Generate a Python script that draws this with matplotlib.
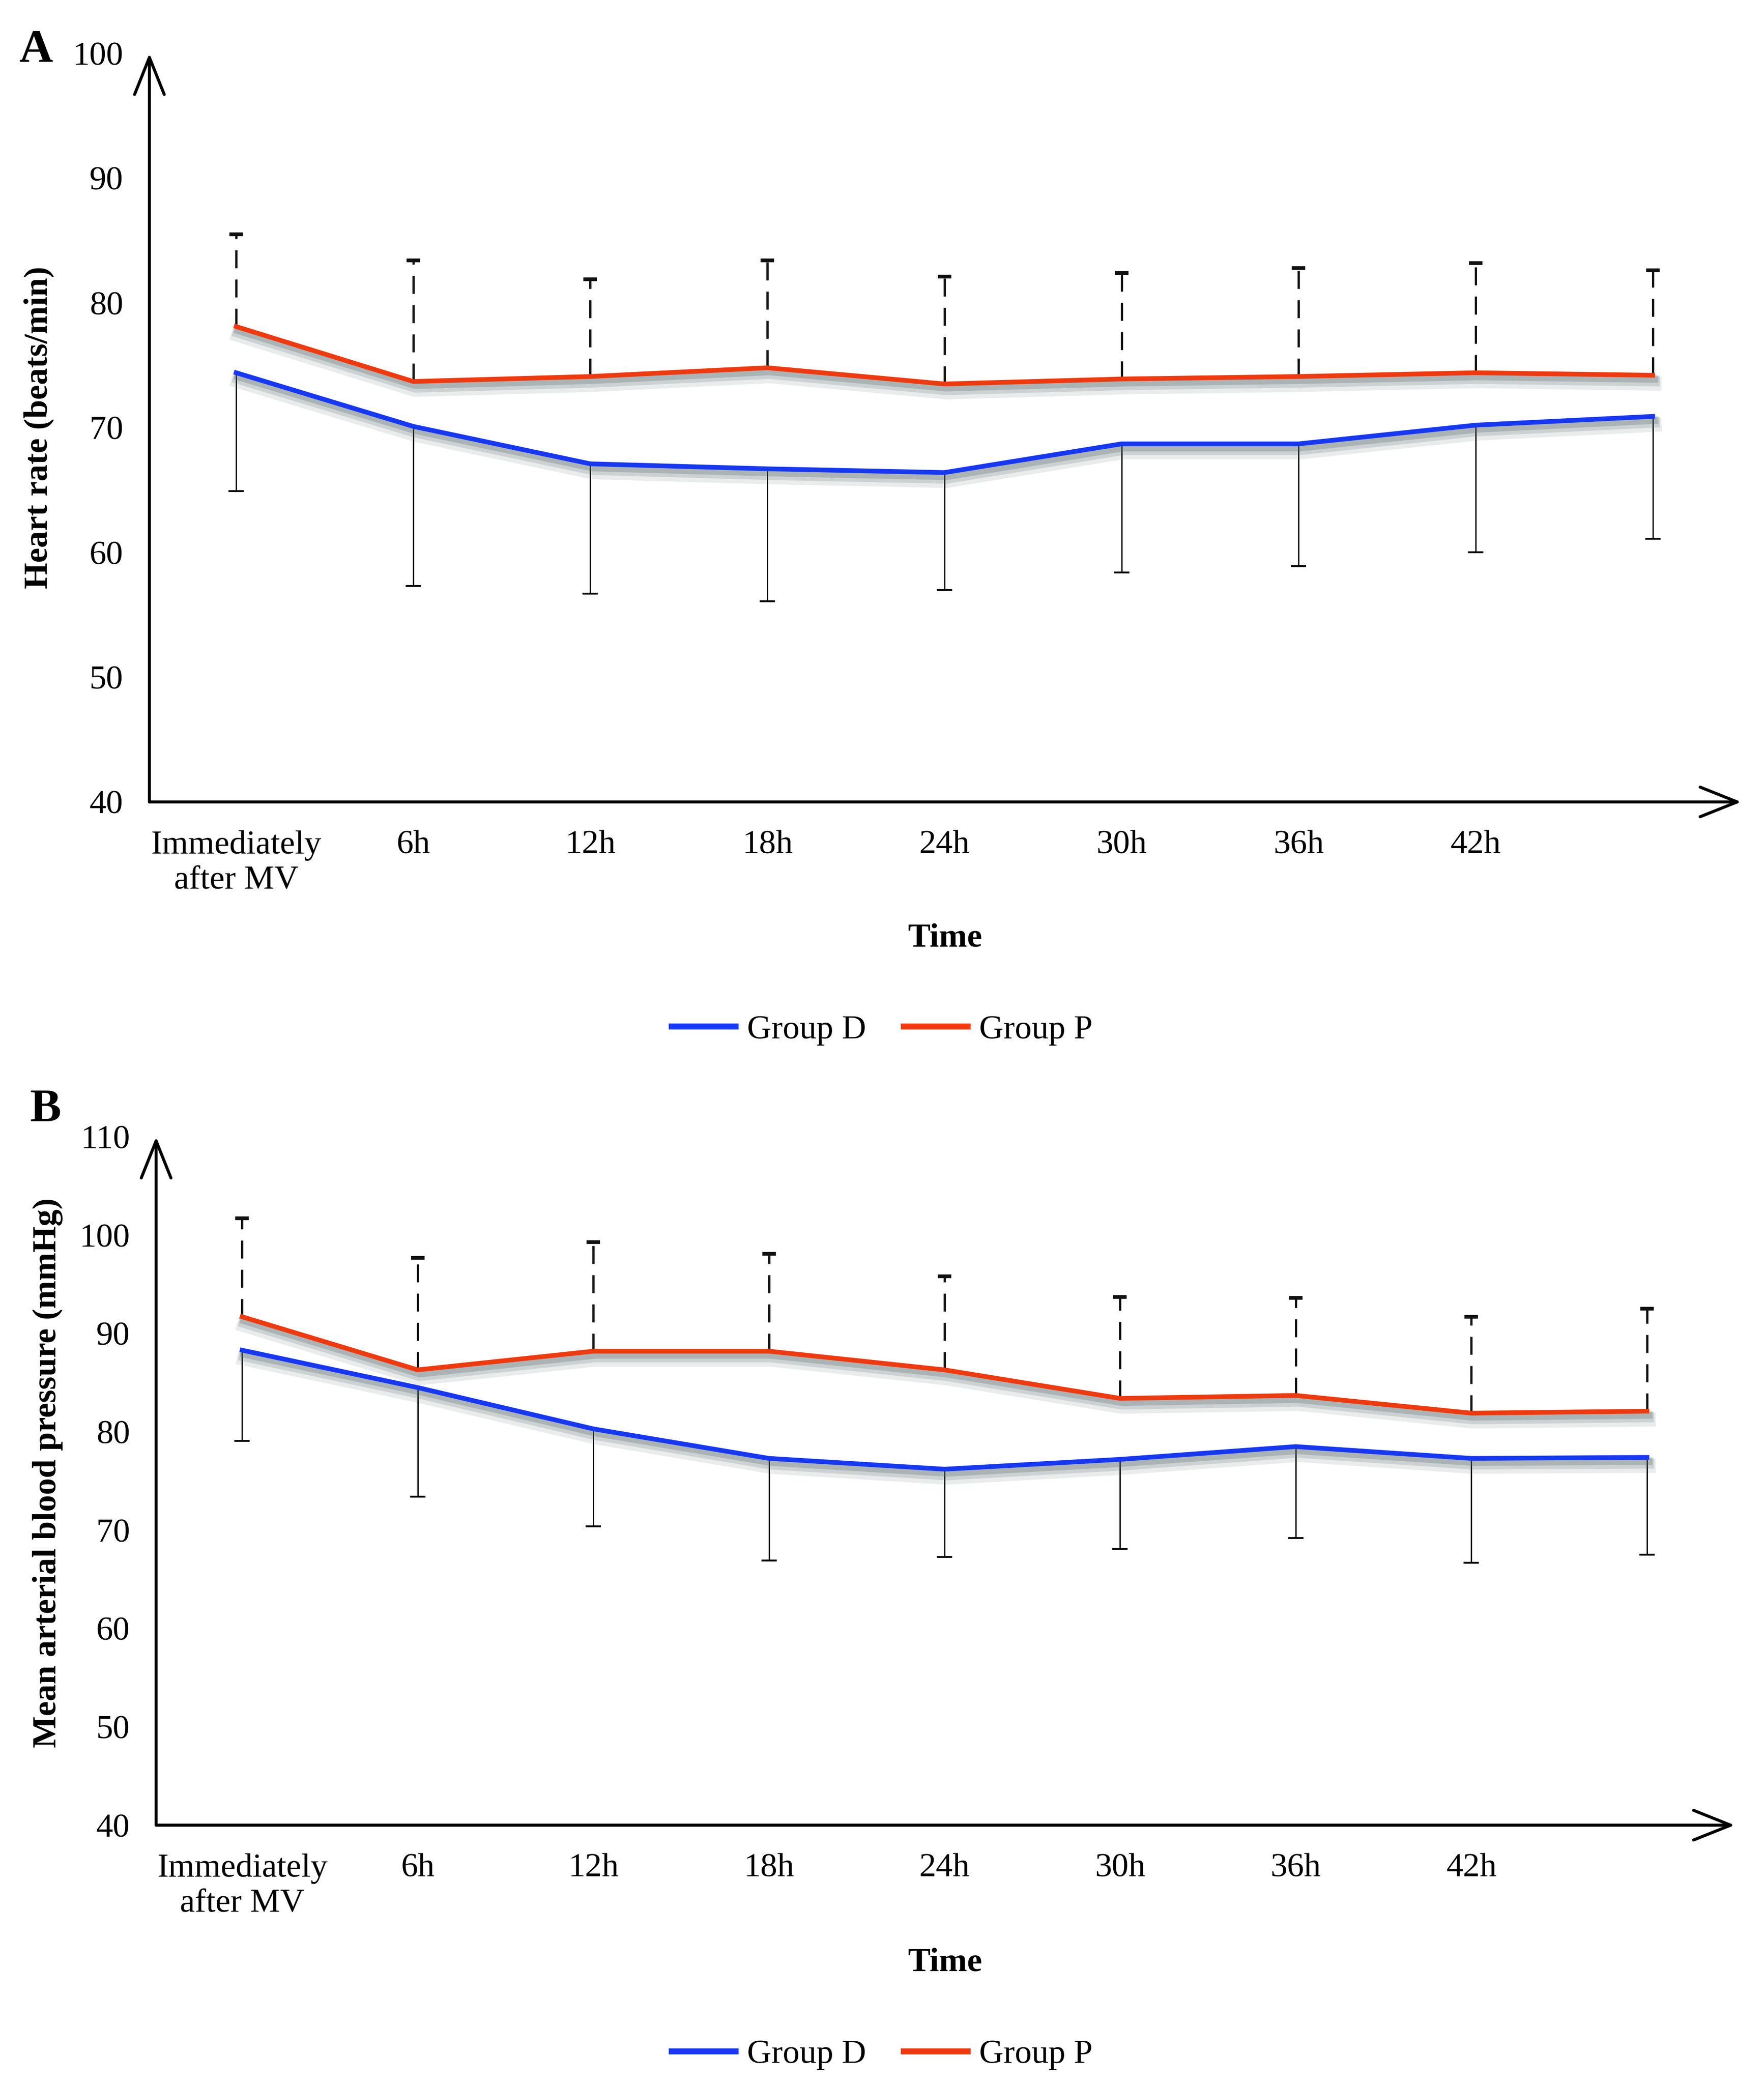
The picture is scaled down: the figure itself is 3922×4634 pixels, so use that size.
import numpy as np
import matplotlib
matplotlib.use("Agg")
import matplotlib.pyplot as plt
import matplotlib.patheffects as pe
from matplotlib.lines import Line2D

plt.rcParams['font.family'] = ['Liberation Serif', 'DejaVu Serif']

# -------------------------
# DATA
# -------------------------
time_labels = ["Immediately\nafter MV", "6h", "12h", "18h", "24h", "30h", "36h", "42h"]
n_points = 9

# A: heart rate (beats/min)
hr_d_mean = [74.4, 70.1, 67.1, 66.7, 66.4, 68.7, 68.7, 70.2, 70.9]
hr_d_low = [64.9, 57.3, 56.7, 56.1, 57.0, 58.4, 58.9, 60.0, 61.1]
hr_p_mean = [78.1, 73.7, 74.1, 74.8, 73.5, 73.9, 74.1, 74.4, 74.2]
hr_p_high = [85.5, 83.4, 81.9, 83.4, 82.1, 82.4, 82.8, 83.2, 82.6]

# B: mean arterial blood pressure (mmHg)
map_d_mean = [88.3, 84.5, 80.3, 77.3, 76.2, 77.2, 78.5, 77.3, 77.4]
map_d_low = [79.1, 73.4, 70.4, 66.9, 67.3, 68.1, 69.2, 66.7, 67.5]
map_p_mean = [91.7, 86.3, 88.2, 88.2, 86.3, 83.4, 83.7, 81.9, 82.1]
map_p_high = [101.7, 97.7, 99.3, 98.1, 95.8, 93.7, 93.6, 91.7, 92.5]

BLUE = '#1638F2'
RED = '#EE3A0E'
FS = 18

fig = plt.figure(figsize=(3922 / 300, 4634 / 300), dpi=300)

# soft drop shadow under the lines
shadow = [pe.SimpleLineShadow(offset=(1.0, -off), shadow_color='#56666a', alpha=a, linewidth=w)
          for off, a, w in [(4.5, 0.12, 7.5), (3.2, 0.2, 5.5), (2.0, 0.28, 4)]]
shadow.append(pe.Normal())


def draw_panel(ax, d_mean, d_low, p_mean, p_high, ylim, yticks, ylabel, letter,
               ylab_xy, time_y):
    x = np.arange(n_points)

    # error bars: lower for group D (solid), upper for group P (dashed)
    ax.vlines(x, d_low, d_mean, colors='black', linewidth=0.7, zorder=2)
    ax.plot(x, d_low, linestyle='none', marker='_', markersize=8, mew=1.0,
            color='black', zorder=2)
    ax.vlines(x, p_mean, p_high, colors='#111111', linewidth=1.2,
              linestyles=[(0, (8, 5))], zorder=2)
    ax.plot(x, p_high, linestyle='none', marker='_', markersize=7, mew=2.0,
            color='#111111', zorder=2)

    ax.plot(x, d_mean, color=BLUE, linewidth=2.5, path_effects=shadow, zorder=3)
    ax.plot(x, p_mean, color=RED, linewidth=2.5, path_effects=shadow, zorder=3)

    ax.set_xlim(-0.49, 8.5)
    ax.set_ylim(*ylim)
    ax.set_yticks(yticks)
    ax.set_xticks(np.arange(len(time_labels)))
    ax.set_xticklabels(time_labels, linespacing=1.2)
    ax.tick_params(axis='both', length=0, labelsize=FS)
    ax.tick_params(axis='y', pad=14)
    ax.tick_params(axis='x', pad=15)

    for s in ax.spines.values():
        s.set_visible(False)
    arrow = dict(arrowstyle='->,head_length=0.55,head_width=0.22', lw=1.6,
                 color='black', shrinkA=0, shrinkB=0, mutation_scale=36)
    ax.annotate('', xy=(0, 1), xytext=(0, 0), xycoords='axes fraction',
                arrowprops=arrow, annotation_clip=False)
    ax.annotate('', xy=(1, 0), xytext=(0, 0), xycoords='axes fraction',
                arrowprops=arrow, annotation_clip=False)

    ax.set_ylabel(ylabel, fontsize=FS, fontweight='bold')
    ax.yaxis.set_label_coords(*ylab_xy)
    ax.set_xlabel('Time', fontsize=FS, fontweight='bold')
    ax.xaxis.set_label_coords(0.5, time_y)
    ax.text(letter[1], letter[2], letter[0], transform=fig.transFigure,
            fontsize=25, fontweight='bold', ha='left', va='center')


axA = fig.add_axes([0.0847, 0.6152, 0.9024, 0.3592])
draw_panel(axA, hr_d_mean, hr_d_low, hr_p_mean, hr_p_high,
           (40, 100), [40, 50, 60, 70, 80, 90, 100], 'Heart rate (beats/min)',
           ('A', 0.011, 1 - 38 / 1562), (-0.060, 0.5), -0.162)

axB = fig.add_axes([0.0885, 0.1242, 0.8949, 0.3303])
draw_panel(axB, map_d_mean, map_d_low, map_p_mean, map_p_high,
           (40, 110), [40, 50, 60, 70, 80, 90, 100, 110],
           'Mean arterial blood pressure (mmHg)',
           ('B', 0.017, 1 - 832 / 1562), (-0.059, 0.512), -0.178)

handles = [Line2D([], [], color=BLUE, linewidth=3.2),
           Line2D([], [], color=RED, linewidth=3.2)]
labels = ['Group D', 'Group P']
legend_kw = dict(ncol=2, frameon=False, fontsize=FS, handlelength=1.9,
                 handletextpad=0.35, columnspacing=1.1, loc='center')
for ypos in [1 - 772 / 1562, 1 - 1540 / 1562]:
    fig.legend(handles, labels, bbox_to_anchor=(0.5, ypos),
               bbox_transform=fig.transFigure, **legend_kw)

fig.savefig('out.png', dpi=300, facecolor='white')
